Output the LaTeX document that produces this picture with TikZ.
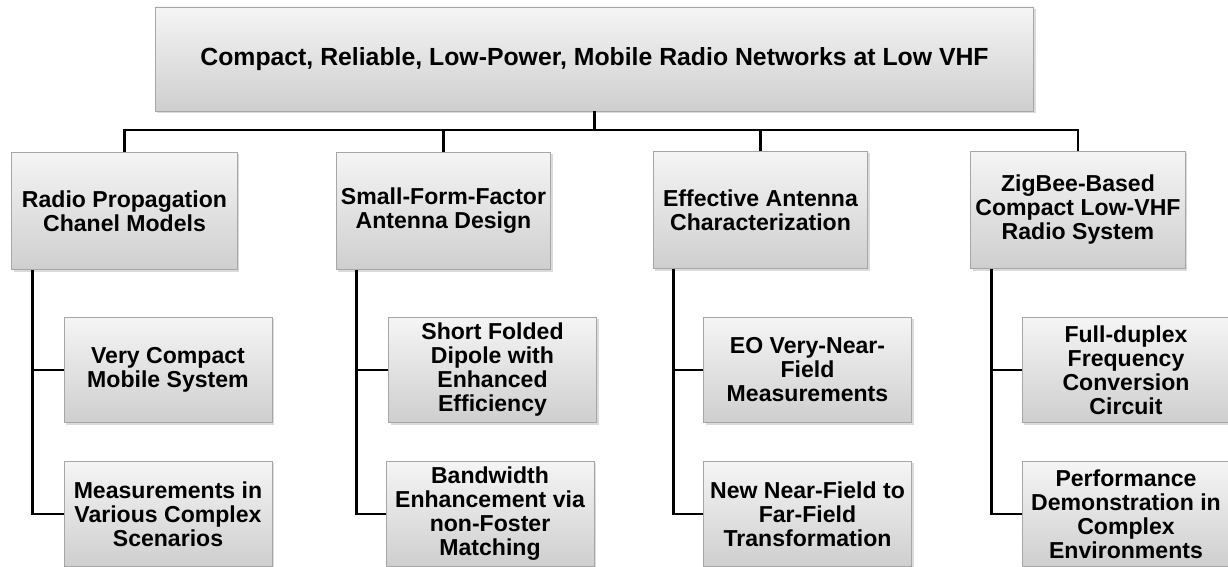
\documentclass[tikz,border=0pt]{standalone}
\usepackage{fontspec}
\setmainfont{Liberation Sans}
\usepackage{tikz}
\usetikzlibrary{positioning, shadows}
\tikzstyle{normalBox} = [shape=rectangle, draw=gray!70, line width=0.6pt, text=black,
	align=center, top color=gray!8, bottom color=gray!38, inner sep=1pt,
	font=\fontsize{17.3}{18}\selectfont\bfseries,
	drop shadow={shadow xshift=1.6pt, shadow yshift=-1.6pt, opacity=0.35, fill=gray!80}]
\tikzstyle{TopBox} = [normalBox, minimum width=659pt, minimum height=78pt,
	font=\fontsize{18.6}{20}\selectfont\bfseries]
\tikzstyle{GroupBox} = [normalBox, minimum width=161pt, minimum height=88pt]
\tikzstyle{ItemBox} = [normalBox, minimum width=156pt, minimum height=79pt]
\tikzstyle{treeLine} = [line width=2.2pt, draw=black]

\begin{document}
\begin{tikzpicture}[x=0.75pt, y=-0.75pt]
	\useasboundingbox (0,0) rectangle (1228,567);
	\node (Top) at (594.5,59) [TopBox] {Compact, Reliable, Low-Power, Mobile Radio Networks at Low VHF};

	% four main topics
	\node (Radio) at (124.5,211) [GroupBox, minimum width=169pt] {Radio Propagation\\Chanel Models};
	\node (Antenna) at (443.5,211) [GroupBox] {Small-Form-Factor\\Antenna Design};
	\node (Charac) at (760.5,210) [GroupBox] {Effective Antenna\\Characterization};
	\node (ZigBee) at (1078,210) [GroupBox] {ZigBee-Based\\Compact Low-VHF\\Radio System};

	% sub topics
	\node (RadioA) at (168,370) [ItemBox] {Very Compact\\Mobile System};
	\node (RadioB) at (168,514) [ItemBox] {Measurements in\\Various Complex\\Scenarios};
	\node (AntennaA) at (492.5,370) [ItemBox] {Short Folded\\Dipole with\\Enhanced\\Efficiency};
	\node (AntennaB) at (490,514) [ItemBox] {Bandwidth\\Enhancement via\\non-Foster\\Matching};
	\node (CharacA) at (807.5,370) [ItemBox] {EO Very-Near-\\Field\\Measurements};
	\node (CharacB) at (807.5,514) [ItemBox] {New Near-Field to\\Far-Field\\Transformation};
	\node (ZigBeeA) at (1126,370) [ItemBox] {Full-duplex\\Frequency\\Conversion\\Circuit};
	\node (ZigBeeB) at (1126,514) [ItemBox] {Performance\\Demonstration in\\Complex\\Environments};

	% bus below the title
	\coordinate (bus) at (594.5,130);
	\draw [treeLine] (Top.south) -- (Top.south |- bus);
	\draw [treeLine] (Radio.north) -- (Radio.north |- bus) -- (ZigBee.north |- bus) -- (ZigBee.north);
	\draw [treeLine] (Antenna.north |- bus) -- (Antenna.north);
	\draw [treeLine] (Charac.north |- bus) -- (Charac.north);

	% trunks down to the sub topics
	\foreach \g in {Radio, Antenna, Charac, ZigBee}{
		\draw [treeLine] ([xshift=15.8pt]\g.south west) |- (\g A.west);
		\draw [treeLine] ([xshift=15.8pt]\g.south west) |- (\g B.west);
	}
\end{tikzpicture}
\end{document}
